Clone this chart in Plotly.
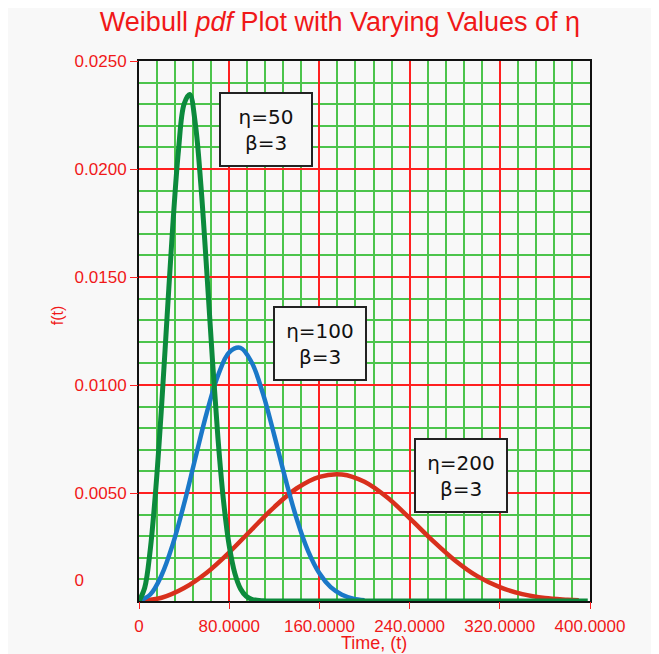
import plotly.graph_objects as go

# Values
t_eta50 = [0, 5, 10, 15, 20, 25, 30, 35, 40, 45, 50, 55, 60, 65, 70, 75, 80, 85, 90, 95, 100, 110, 120, 160, 200, 240, 280, 320, 360, 398]
f_eta50 = [0, 0.00060, 0.00238, 0.00526, 0.00900, 0.01324, 0.01740, 0.02086, 0.02301, 0.02345, 0.02207,
           0.01918, 0.01535, 0.01127, 0.00756, 0.00462, 0.00256, 0.00128, 0.00057, 0.00023, 0.00008,
           0.00001, 0, 0, 0, 0, 0, 0, 0, 0]

t_eta100 = [0, 10, 20, 30, 40, 50, 60, 70, 80, 90, 100, 110, 120, 130, 140, 150, 160, 170, 180, 190, 200]
f_eta100 = [0, 0.00030, 0.00119, 0.00263, 0.00450, 0.00662, 0.00870, 0.01043, 0.01151, 0.01172, 0.01104,
            0.00959, 0.00767, 0.00563, 0.00378, 0.00231, 0.00128, 0.00064, 0.00029, 0.00011, 0.00004]

t_eta200 = [0, 20, 40, 60, 80, 100, 120, 140, 160, 180, 200, 220, 240, 260, 280, 300, 320, 340, 360, 380, 390]
f_eta200 = [0, 0.00015, 0.00060, 0.00131, 0.00225, 0.00331, 0.00435, 0.00522, 0.00575, 0.00586, 0.00552,
            0.00480, 0.00384, 0.00282, 0.00189, 0.00115, 0.00064, 0.00032, 0.00014, 0.00006, 0.00003]

x_tickvals = [0, 80, 160, 240, 320, 400]
x_ticktext = ["0", "80.0000", "160.0000", "240.0000", "320.0000", "400.0000"]
y_tickvals = [0.005, 0.010, 0.015, 0.020, 0.025]
y_ticktext = ["0.0050", "0.0100", "0.0150", "0.0200", "0.0250"]
y_zero_val = [0]
y_zero_text = ["0"]

labels = ["η=50<br>β=3", "η=100<br>β=3", "η=200<br>β=3"]
label_x = [112.6, 160.1, 285.2]
label_y = [0.02185, 0.01192, 0.00583]

# minor grid positions (every 16 on x, every 0.001 on y), skipping the major lines
x_minor = [v for v in range(0, 401, 16) if v % 80 != 0]
y_minor = [round(i * 0.001, 3) for i in range(26) if i % 5 != 0]

RED = "#f01818"
GRID_RED = "#ff2020"
GRID_GREEN = "#4cc44c"
BG = "#f8f8f8"
TICKFONT = dict(family="Liberation Sans", size=17, color=RED)

fig = go.Figure()
fig.add_trace(go.Scatter(x=t_eta200, y=f_eta200, mode="lines", line=dict(color="#d8301c", width=4.5), line_shape="spline"))
fig.add_trace(go.Scatter(x=t_eta100, y=f_eta100, mode="lines", line=dict(color="#1a78c8", width=4.5), line_shape="spline"))
fig.add_trace(go.Scatter(x=t_eta50, y=f_eta50, mode="lines", line=dict(color="#0c8a3c", width=5), line_shape="spline"))

for txt, ax_, ay_ in zip(labels, label_x, label_y):
    fig.add_annotation(x=ax_, y=ay_, text=txt, showarrow=False,
                       font=dict(family="DejaVu Sans", size=20, color="#111111"),
                       bgcolor=BG, bordercolor="#222222", borderwidth=2,
                       width=88, height=69, align="center")

fig.add_annotation(x=0.521, y=-0.077, xref="paper", yref="paper", yanchor="middle",
                   text="Time, (t)", showarrow=False,
                   font=dict(family="Liberation Sans", size=18, color=RED))
fig.add_annotation(x=-0.204, y=0.53, xref="paper", yref="paper", text="f(t)", textangle=-90,
                   showarrow=False, font=dict(family="Liberation Sans", size=16, color=RED))

W, H = 651, 646
fig.update_layout(
    width=W, height=H,
    margin=dict(l=131, r=69, t=53, b=53),
    paper_bgcolor=BG, plot_bgcolor=BG,
    showlegend=False,
    title=dict(text="Weibull <i>pdf</i> Plot with Varying Values of η", x=0.51, xanchor="center",
               y=0.994, yanchor="top", pad=dict(t=0),
               font=dict(family="Liberation Sans", size=27, color=RED)),
    # minor green grid on the main axes (carry the traces)
    xaxis=dict(range=[0, 400], tickmode="array", tickvals=x_minor,
               showgrid=True, gridcolor=GRID_GREEN, gridwidth=1.5,
               showticklabels=False, ticks="",
               showline=True, linecolor="#111111", linewidth=2, mirror=True, zeroline=False),
    yaxis=dict(range=[0, 0.025], tickmode="array", tickvals=y_minor,
               showgrid=True, gridcolor=GRID_GREEN, gridwidth=1.5,
               showticklabels=False, ticks="",
               showline=True, linecolor="#111111", linewidth=2, mirror=True, zeroline=False),
    # major red grid + labels
    xaxis2=dict(overlaying="x", range=[0, 400], tickvals=x_tickvals, ticktext=x_ticktext,
                showgrid=True, gridcolor=GRID_RED, gridwidth=1.5,
                ticks="outside", ticklen=7, tickcolor=GRID_RED, tickwidth=1,
                ticklabelstandoff=3,
                tickfont=TICKFONT, side="bottom", showline=False, zeroline=False),
    yaxis2=dict(overlaying="y", range=[0, 0.025], tickvals=y_tickvals, ticktext=y_ticktext,
                showgrid=True, gridcolor=GRID_RED, gridwidth=1.5,
                ticks="outside", ticklen=8, tickcolor=GRID_RED, tickwidth=1,
                tickfont=TICKFONT, side="left", showline=False, zeroline=False),
    yaxis3=dict(overlaying="y", range=[0, 0.025], tickvals=y_zero_val, ticktext=y_zero_text,
                showgrid=False, ticks="", tickfont=TICKFONT, side="left",
                ticklabelshift=-21, ticklabelstandoff=54, showline=False, zeroline=False),
)

# invisible helper traces so the overlay axes are drawn
fig.add_trace(go.Scatter(x=[None], y=[None], xaxis="x2", yaxis="y2", showlegend=False, hoverinfo="skip"))
fig.add_trace(go.Scatter(x=[None], y=[None], xaxis="x2", yaxis="y3", showlegend=False, hoverinfo="skip"))

fig.write_html("out.html")
